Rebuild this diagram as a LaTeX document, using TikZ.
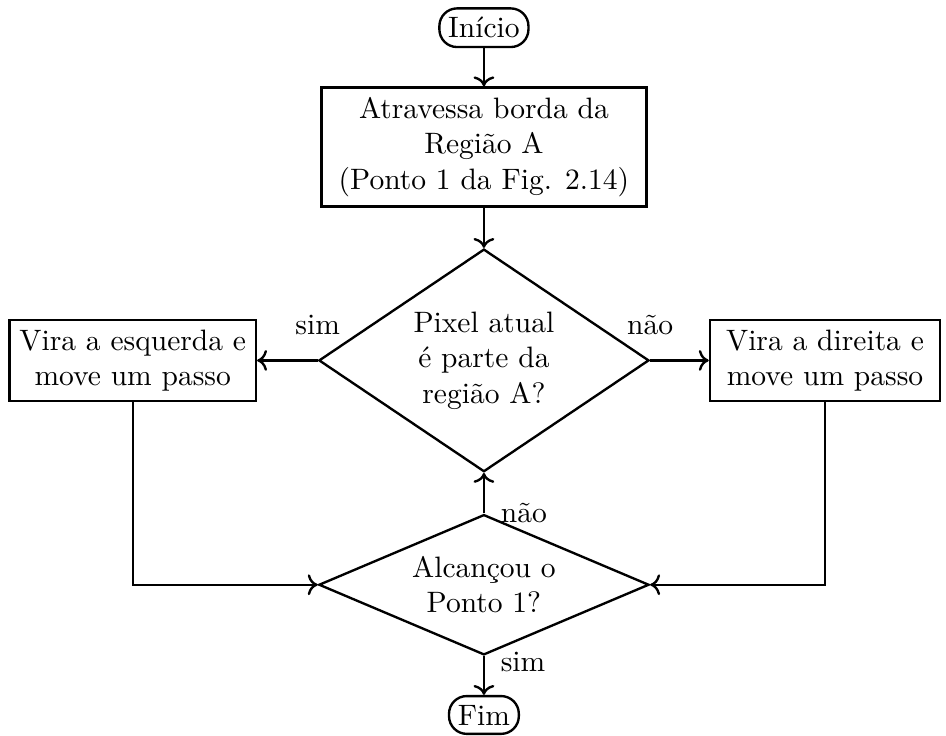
\documentclass[tikz,border=0pt]{standalone}
\usepackage{tikz}
\usetikzlibrary{arrows.meta, calc, positioning, shapes.geometric}

\begin{document}
\begin{tikzpicture}[thick,
  terminal/.style={draw, rounded corners=6pt, inner sep=3pt},
  process/.style={draw, rectangle, align=center, minimum height=0.95cm},
  decision/.style={draw, diamond, align=center, inner sep=0pt},
  flow/.style={->}]
\useasboundingbox (0,0) rectangle (11.26,-8.75);
\node[terminal] (inicio) at (5.76,-0.33) {Início};
\node[process, minimum width=3.87cm, minimum height=1.4cm] (borda) at (5.76,-1.75) {Atravessa borda da\\Região A\\(Ponto 1 da Fig. 2.14)};
\node[decision, aspect=1.48, minimum width=3.93cm, minimum height=2.65cm] (pixel) at (5.76,-4.29) {Pixel atual\\é parte da\\região A?};
\node[process, minimum width=2.93cm] (esquerda) at (1.58,-4.29) {Vira a esquerda e\\move um passo};
\node[process, minimum width=2.74cm] (direita) at (9.82,-4.29) {Vira a direita e\\move um passo};
\node[decision, aspect=2.35, minimum width=3.93cm, minimum height=1.67cm] (ponto) at (5.76,-6.96) {Alcançou o\\Ponto 1?};
\node[terminal] (fim) at (5.76,-8.51) {Fim};
% ligacoes
\draw[flow] (inicio) -- (borda);
\draw[flow] (borda) -- (pixel);
\draw[flow] (pixel.west) -- node[pos=0, above=5pt]{sim} (esquerda);
\draw[flow] (pixel.east) -- node[pos=0, above=5pt]{não} (direita);
\draw[flow] (esquerda) |- (ponto.west);
\draw[flow] (direita) |- (ponto.east);
\draw[flow] (ponto) -- node[pos=0, right=2pt]{não} (pixel);
\draw[flow] (ponto) -- node[pos=0, right=2pt, yshift=-2pt]{sim} (fim);
\end{tikzpicture}
\end{document}
